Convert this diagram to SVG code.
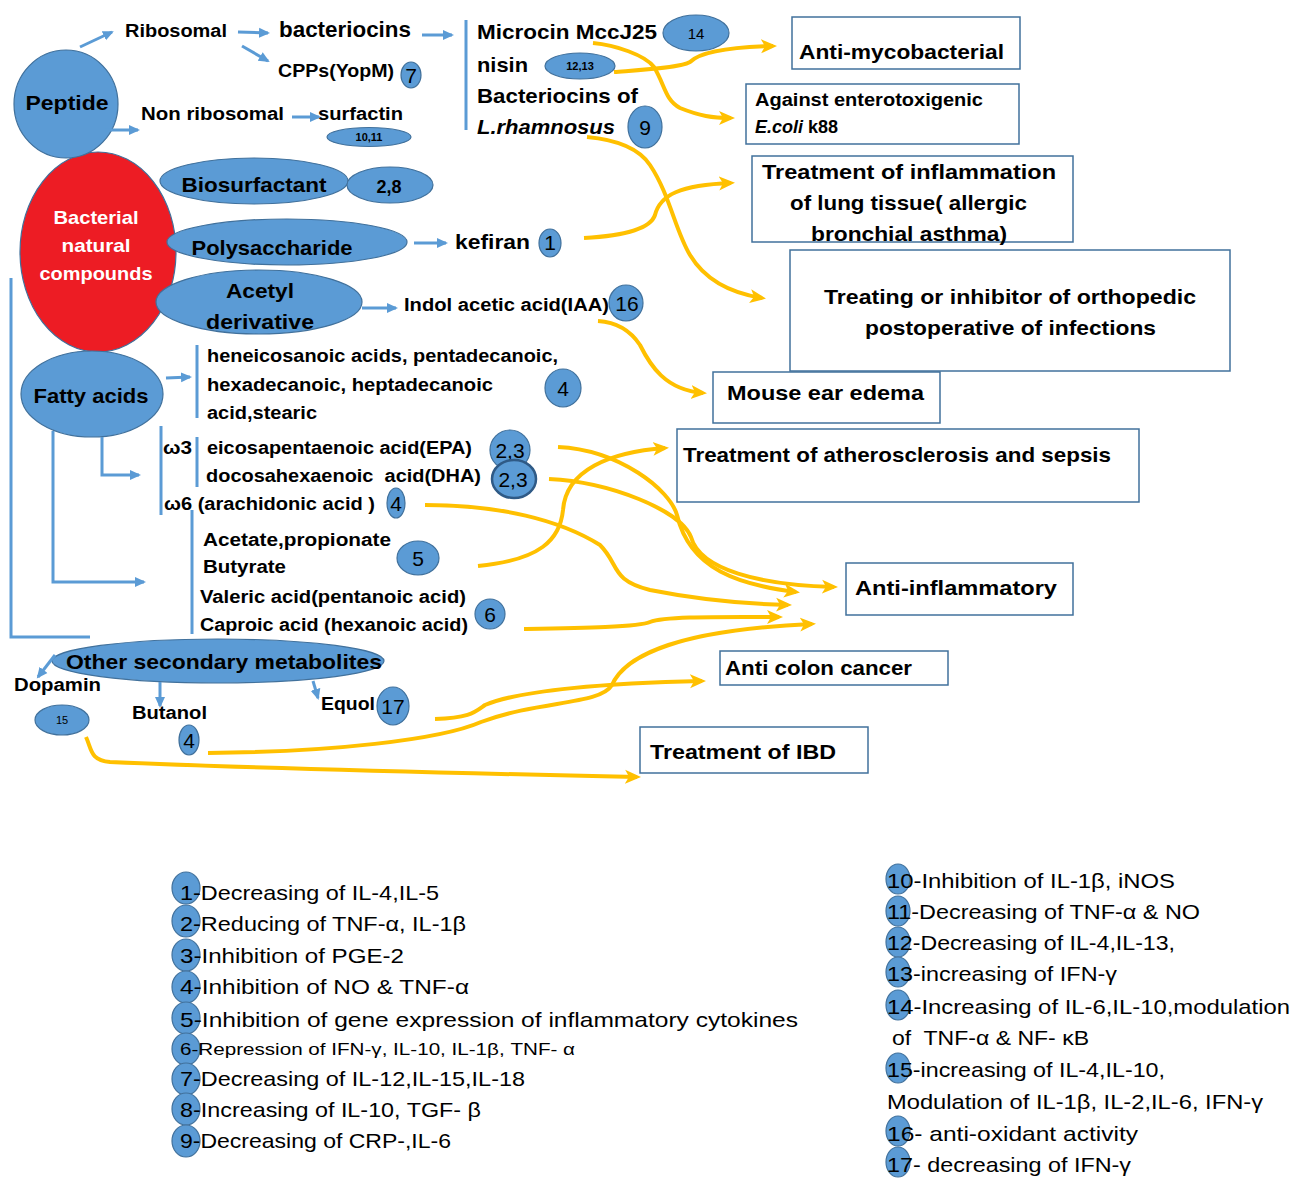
<svg xmlns="http://www.w3.org/2000/svg" width="1294" height="1178" viewBox="0 0 1294 1178">
<style>
text{font-family:"Liberation Sans",Arial,sans-serif;fill:#000}
.b{font-weight:bold}
.L{font-size:21px}
.M{font-size:18px}
.S{font-size:11px}
.n{font-size:21px;text-anchor:middle}
.lg{font-size:21px}
.w{fill:#fff;font-weight:bold;font-size:19px;text-anchor:middle}
.c{text-anchor:middle}
.ell{fill:#5B9BD5;stroke:#41719C;stroke-width:1.2}
.box{fill:#fff;stroke:#41719C;stroke-width:1.5}
.bl{stroke:#5B9BD5;stroke-width:3;fill:none}
.ba{stroke:#5B9BD5;stroke-width:3;fill:none;marker-end:url(#ah)}
.oa{stroke:#FFC000;stroke-width:4;fill:none;marker-end:url(#oh)}
</style>
<defs>
<marker id="ah" markerUnits="userSpaceOnUse" markerWidth="12" markerHeight="12" refX="9" refY="6" orient="auto"><path d="M0,1 L11,6 L0,11 z" fill="#5B9BD5"/></marker>
<marker id="oh" markerUnits="userSpaceOnUse" markerWidth="18" markerHeight="18" refX="12" refY="9" orient="auto"><path d="M0,2 L16,9 L0,16 L4,9 z" fill="#FFC000"/></marker>
</defs>
<rect width="1294" height="1178" fill="#fff"/>

<g id="bacterial-compounds"><ellipse cx="98" cy="252" rx="78" ry="100" fill="#ED1C24" stroke="#41719C" stroke-width="1.2"/>
<text class="w" x="96" y="224" textLength="85" lengthAdjust="spacingAndGlyphs">Bacterial</text>
<text class="w" x="96" y="252" textLength="69" lengthAdjust="spacingAndGlyphs">natural</text>
<text class="w" x="96" y="280" textLength="113" lengthAdjust="spacingAndGlyphs">compounds</text></g>

<g id="peptide"><ellipse class="ell" cx="66" cy="104" rx="52" ry="54"/><text class="b L c" x="67" y="110" textLength="83" lengthAdjust="spacingAndGlyphs">Peptide</text></g>
<g id="ribosomal"><text class="b M" x="125" y="37" textLength="102" lengthAdjust="spacingAndGlyphs">Ribosomal</text></g>
<g id="bacteriocins"><text class="b" font-size="22" x="279" y="37" textLength="132" lengthAdjust="spacingAndGlyphs">bacteriocins</text></g>
<g id="cpps"><text class="b M" x="278" y="77" textLength="116" lengthAdjust="spacingAndGlyphs">CPPs(YopM)</text><ellipse class="ell" cx="411" cy="75" rx="10" ry="13"/><text class="n" x="411" y="83">7</text></g>
<g id="nonribosomal"><text class="b M" x="141" y="120" textLength="143" lengthAdjust="spacingAndGlyphs">Non ribosomal</text></g>
<g id="surfactin"><text class="b M" x="318" y="120" textLength="85" lengthAdjust="spacingAndGlyphs">surfactin</text><ellipse class="ell" cx="369" cy="137" rx="42" ry="9.5"/><text class="b S c" x="369" y="141">10,11</text></g>

<g id="bacteriocin-list">
<text class="b L" x="477" y="39" textLength="180" lengthAdjust="spacingAndGlyphs">Microcin MccJ25</text>
<ellipse class="ell" cx="696" cy="33" rx="33" ry="18"/><text class="c" font-size="15" x="696" y="39">14</text>
<text class="b L" x="477" y="72" textLength="51" lengthAdjust="spacingAndGlyphs">nisin</text>
<ellipse class="ell" cx="580" cy="66" rx="35" ry="13"/><text class="b S c" x="580" y="70">12,13</text>
<text class="b L" x="477" y="103" textLength="161" lengthAdjust="spacingAndGlyphs">Bacteriocins of</text>
<text class="b L" font-style="italic" x="477" y="134" textLength="138" lengthAdjust="spacingAndGlyphs">L.rhamnosus</text>
<ellipse class="ell" cx="645" cy="127" rx="17" ry="21"/><text class="n" x="645" y="135">9</text>
</g>

<g id="biosurfactant"><ellipse class="ell" cx="254" cy="181" rx="94" ry="23"/><text class="b L c" x="254" y="192" textLength="145" lengthAdjust="spacingAndGlyphs">Biosurfactant</text>
<ellipse class="ell" cx="390" cy="185" rx="43" ry="18"/><text class="b M c" x="389" y="193">2,8</text></g>
<g id="polysaccharide"><ellipse class="ell" cx="287" cy="242" rx="120" ry="23"/><text class="b L c" x="272" y="255" textLength="161" lengthAdjust="spacingAndGlyphs">Polysaccharide</text></g>
<g id="kefiran"><text class="b L" x="455" y="249" textLength="75" lengthAdjust="spacingAndGlyphs">kefiran</text><ellipse class="ell" cx="550" cy="243" rx="11" ry="14"/><text class="n" x="550" y="250">1</text></g>
<g id="acetyl"><ellipse class="ell" cx="259" cy="302" rx="103" ry="32"/><text class="b L c" x="260" y="298" textLength="68" lengthAdjust="spacingAndGlyphs">Acetyl</text><text class="b L c" x="260" y="329" textLength="108" lengthAdjust="spacingAndGlyphs">derivative</text></g>
<g id="iaa"><text class="b M" x="404" y="311" textLength="205" lengthAdjust="spacingAndGlyphs">Indol acetic acid(IAA)</text><ellipse class="ell" cx="626" cy="303" rx="17" ry="18"/><text class="n" x="627" y="311">16</text></g>

<g id="fatty-acids"><ellipse class="ell" cx="92" cy="394" rx="71" ry="43"/><text class="b L c" x="91" y="403" textLength="115" lengthAdjust="spacingAndGlyphs">Fatty acids</text></g>
<g id="saturated">
<text class="b M" x="207" y="362" textLength="351" lengthAdjust="spacingAndGlyphs">heneicosanoic acids, pentadecanoic,</text>
<text class="b M" x="207" y="391" textLength="286" lengthAdjust="spacingAndGlyphs">hexadecanoic, heptadecanoic</text>
<text class="b M" x="207" y="419" textLength="110" lengthAdjust="spacingAndGlyphs">acid,stearic</text>
<ellipse class="ell" cx="563" cy="388" rx="18" ry="19"/><text class="n" x="563" y="396">4</text>
</g>
<g id="omega">
<text class="b M" x="163" y="454" textLength="29" lengthAdjust="spacingAndGlyphs">ω3</text>
<text class="b M" x="207" y="454" textLength="265" lengthAdjust="spacingAndGlyphs">eicosapentaenoic acid(EPA)</text>
<ellipse class="ell" cx="510" cy="450" rx="20" ry="20"/><text class="n" x="510" y="458">2,3</text>
<text class="b M" x="206" y="482" textLength="275" lengthAdjust="spacingAndGlyphs" xml:space="preserve">docosahexaenoic  acid(DHA)</text>
<ellipse cx="514" cy="479" rx="22" ry="19" fill="#5B9BD5" stroke="#2F5A86" stroke-width="2.5"/><text class="n" x="513" y="487">2,3</text>
<text class="b M" x="164" y="510" textLength="211" lengthAdjust="spacingAndGlyphs">ω6 (arachidonic acid )</text>
<ellipse class="ell" cx="396" cy="503" rx="9" ry="15"/><text class="n" x="396" y="511">4</text>
</g>
<g id="scfa">
<text class="b M" x="203" y="546" textLength="188" lengthAdjust="spacingAndGlyphs">Acetate,propionate</text>
<text class="b M" x="203" y="573" textLength="83" lengthAdjust="spacingAndGlyphs">Butyrate</text>
<ellipse class="ell" cx="418" cy="558" rx="21" ry="17"/><text class="n" x="418" y="566">5</text>
<text class="b M" x="200" y="603" textLength="266" lengthAdjust="spacingAndGlyphs">Valeric acid(pentanoic acid)</text>
<text class="b M" x="200" y="631" textLength="268" lengthAdjust="spacingAndGlyphs">Caproic acid (hexanoic acid)</text>
<ellipse class="ell" cx="490" cy="614" rx="15" ry="15"/><text class="n" x="490" y="622">6</text>
</g>

<g id="other-metabolites"><ellipse class="ell" cx="218" cy="661" rx="166" ry="22"/><text class="b L" x="66" y="669" textLength="316" lengthAdjust="spacingAndGlyphs">Other secondary metabolites</text></g>
<g id="dopamin"><text class="b M" x="14" y="691" textLength="87" lengthAdjust="spacingAndGlyphs">Dopamin</text><ellipse class="ell" cx="62" cy="720" rx="27" ry="15"/><text class="S c" x="62" y="724">15</text></g>
<g id="butanol"><text class="b M" x="132" y="719" textLength="75" lengthAdjust="spacingAndGlyphs">Butanol</text><ellipse class="ell" cx="189" cy="740" rx="10" ry="15"/><text class="n" x="189" y="748">4</text></g>
<g id="equol"><text class="b M" x="321" y="710" textLength="54" lengthAdjust="spacingAndGlyphs">Equol</text><ellipse class="ell" cx="393" cy="706" rx="16" ry="19"/><text class="n" x="393" y="714">17</text></g>

<g id="anti-mycobacterial"><rect class="box" x="792" y="17" width="228" height="52"/><text class="b L" x="799" y="59" textLength="205" lengthAdjust="spacingAndGlyphs">Anti-mycobacterial</text></g>
<g id="enterotoxigenic"><rect class="box" x="746" y="84" width="273" height="60"/><text class="b M" x="755" y="106" textLength="228" lengthAdjust="spacingAndGlyphs">Against enterotoxigenic</text><text class="b M" x="755" y="133"><tspan font-style="italic">E.coli</tspan> k88</text></g>
<g id="lung"><rect class="box" x="752" y="156" width="321" height="86"/>
<text class="b L" x="762" y="179" textLength="294" lengthAdjust="spacingAndGlyphs">Treatment of inflammation</text>
<text class="b L" x="790" y="210" textLength="237" lengthAdjust="spacingAndGlyphs">of lung tissue( allergic</text>
<text class="b L" x="811" y="241" textLength="196" lengthAdjust="spacingAndGlyphs">bronchial asthma)</text></g>
<g id="orthopedic"><rect class="box" x="790" y="250" width="440" height="121"/>
<text class="b L" x="824" y="304" textLength="372" lengthAdjust="spacingAndGlyphs">Treating or inhibitor of orthopedic</text>
<text class="b L" x="865" y="335" textLength="291" lengthAdjust="spacingAndGlyphs">postoperative of infections</text></g>
<g id="mouse-ear"><rect class="box" x="713" y="372" width="227" height="51"/><text class="b L" x="727" y="400" textLength="197" lengthAdjust="spacingAndGlyphs">Mouse ear edema</text></g>
<g id="atherosclerosis"><rect class="box" x="677" y="429" width="462" height="73"/><text class="b L" x="683" y="462" textLength="428" lengthAdjust="spacingAndGlyphs">Treatment of atherosclerosis and sepsis</text></g>
<g id="anti-inflammatory"><rect class="box" x="846" y="563" width="227" height="52"/><text class="b L" x="855" y="595" textLength="202" lengthAdjust="spacingAndGlyphs">Anti-inflammatory</text></g>
<g id="colon-cancer"><rect class="box" x="720" y="651" width="228" height="34"/><text class="b L" x="725" y="675" textLength="187" lengthAdjust="spacingAndGlyphs">Anti colon cancer</text></g>
<g id="ibd"><rect class="box" x="640" y="727" width="228" height="46"/><text class="b L" x="650" y="759" textLength="186" lengthAdjust="spacingAndGlyphs">Treatment of IBD</text></g>

<g id="connectors">
<path class="ba" d="M80,47 L112,32"/>
<path class="ba" d="M238,32 L268,33"/>
<path class="ba" d="M242,46 L268,61"/>
<path class="ba" d="M105,130 L138,130"/>
<path class="ba" d="M292,117 L319,117"/>
<path class="ba" d="M422,35 L452,35"/>
<path class="bl" d="M466,20 L466,130"/>
<path class="ba" d="M414,243 L446,243"/>
<path class="ba" d="M362,308 L396,308"/>
<path class="ba" d="M166,378 L190,377"/>
<path class="bl" d="M197,345 L197,418"/>
<path class="ba" d="M102,437 L102,475 L139,475"/>
<path class="bl" d="M161,426 L161,515"/>
<path class="bl" d="M197,437 L197,487"/>
<path class="bl" d="M192,510 L192,634"/>
<path class="ba" d="M53,431 L53,582 L144,582"/>
<path class="bl" d="M11,278 L11,637 L90,637"/>
<path class="ba" d="M55,655 L38,677"/>
<path class="ba" d="M160,682 L160,706"/>
<path class="ba" d="M313,681 L318,698"/>

<path class="oa" d="M593,43 C615,45 645,55 654,67 C665,85 665,100 680,108 C700,116 712,118 731,118"/>
<path class="oa" d="M614,72 C640,70 680,68 690,62 C700,52 730,47 773,46"/>
<path class="oa" d="M587,137 C620,140 640,150 650,165 C670,195 675,230 690,255 C705,280 730,293 762,298"/>
<path class="oa" d="M584,238 C620,236 650,230 655,215 C660,195 680,185 731,183"/>
<path class="oa" d="M598,321 C615,322 630,330 640,345 C650,365 665,390 703,393"/>
<path class="oa" d="M558,447 C620,450 670,490 677,515 C690,570 740,585 796,592"/>
<path class="oa" d="M549,479 C610,482 680,510 691,537 C700,570 760,585 834,587"/>
<path class="oa" d="M425,505 C500,505 560,520 600,545 C620,565 610,580 650,590 C700,600 750,604 788,605"/>
<path class="oa" d="M478,566 C540,560 560,540 563,510 C566,470 610,452 665,448"/>
<path class="oa" d="M524,629 C580,628 640,627 650,622 C665,616 720,617 779,617"/>
<path class="oa" d="M435,719 C470,718 475,712 485,705 C520,690 610,683 702,681"/>
<path class="oa" d="M208,753 C330,752 440,740 481,722 C540,700 600,705 612,685 C625,655 680,630 812,624"/>
<path class="oa" d="M86,737 C92,750 90,760 110,762 C250,768 450,773 637,777"/>
</g>

<g id="legend-left">
<ellipse class="ell" cx="186" cy="888" rx="14" ry="16"/><text class="lg" x="180" y="900" textLength="259" lengthAdjust="spacingAndGlyphs">1-Decreasing of IL-4,IL-5</text>
<ellipse class="ell" cx="186" cy="921" rx="14" ry="16"/><text class="lg" x="180" y="931" textLength="286" lengthAdjust="spacingAndGlyphs">2-Reducing of TNF-α, IL-1β</text>
<ellipse class="ell" cx="186" cy="955" rx="14" ry="16"/><text class="lg" x="180" y="963" textLength="224" lengthAdjust="spacingAndGlyphs">3-Inhibition of PGE-2</text>
<ellipse class="ell" cx="186" cy="987" rx="14" ry="16"/><text class="lg" x="180" y="994" textLength="289" lengthAdjust="spacingAndGlyphs">4-Inhibition of NO &amp; TNF-α</text>
<ellipse class="ell" cx="186" cy="1018" rx="14" ry="16"/><text class="lg" x="180" y="1027" textLength="618" lengthAdjust="spacingAndGlyphs">5-Inhibition of gene expression of inflammatory cytokines</text>
<ellipse class="ell" cx="186" cy="1049" rx="14" ry="16"/><text font-size="17" x="180" y="1055" textLength="395" lengthAdjust="spacingAndGlyphs">6-Repression of IFN-γ, IL-10, IL-1β, TNF- α</text>
<ellipse class="ell" cx="186" cy="1079" rx="14" ry="16"/><text class="lg" x="180" y="1086" textLength="345" lengthAdjust="spacingAndGlyphs">7-Decreasing of IL-12,IL-15,IL-18</text>
<ellipse class="ell" cx="186" cy="1109" rx="14" ry="16"/><text class="lg" x="180" y="1117" textLength="301" lengthAdjust="spacingAndGlyphs">8-Increasing of IL-10, TGF- β</text>
<ellipse class="ell" cx="186" cy="1141" rx="14" ry="16"/><text class="lg" x="180" y="1148" textLength="271" lengthAdjust="spacingAndGlyphs">9-Decreasing of CRP-,IL-6</text>
</g>
<g id="legend-right">
<ellipse class="ell" cx="898" cy="879" rx="12" ry="15"/><text class="lg" x="887" y="888" textLength="288" lengthAdjust="spacingAndGlyphs">10-Inhibition of IL-1β, iNOS</text>
<ellipse class="ell" cx="898" cy="911" rx="12" ry="15"/><text class="lg" x="887" y="919" textLength="313" lengthAdjust="spacingAndGlyphs">11-Decreasing of TNF-α &amp; NO</text>
<ellipse class="ell" cx="898" cy="942" rx="12" ry="15"/><text class="lg" x="887" y="950" textLength="288" lengthAdjust="spacingAndGlyphs">12-Decreasing of IL-4,IL-13,</text>
<ellipse class="ell" cx="898" cy="972" rx="12" ry="15"/><text class="lg" x="887" y="981" textLength="230" lengthAdjust="spacingAndGlyphs">13-increasing of IFN-γ</text>
<ellipse class="ell" cx="898" cy="1005" rx="12" ry="15"/><text class="lg" x="887" y="1014" textLength="403" lengthAdjust="spacingAndGlyphs">14-Increasing of IL-6,IL-10,modulation</text>
<text class="lg" x="892" y="1045" textLength="197" lengthAdjust="spacingAndGlyphs" xml:space="preserve">of  TNF-α &amp; NF- κB</text>
<ellipse class="ell" cx="898" cy="1068" rx="12" ry="15"/><text class="lg" x="887" y="1077" textLength="278" lengthAdjust="spacingAndGlyphs">15-increasing of IL-4,IL-10,</text>
<text class="lg" x="887" y="1109" textLength="376" lengthAdjust="spacingAndGlyphs">Modulation of IL-1β, IL-2,IL-6, IFN-γ</text>
<ellipse class="ell" cx="898" cy="1131" rx="12" ry="15"/><text class="lg" x="887" y="1141" textLength="251" lengthAdjust="spacingAndGlyphs">16- anti-oxidant activity</text>
<ellipse class="ell" cx="898" cy="1162" rx="12" ry="15"/><text class="lg" x="887" y="1172" textLength="244" lengthAdjust="spacingAndGlyphs">17- decreasing of IFN-γ</text>
</g>
</svg>
